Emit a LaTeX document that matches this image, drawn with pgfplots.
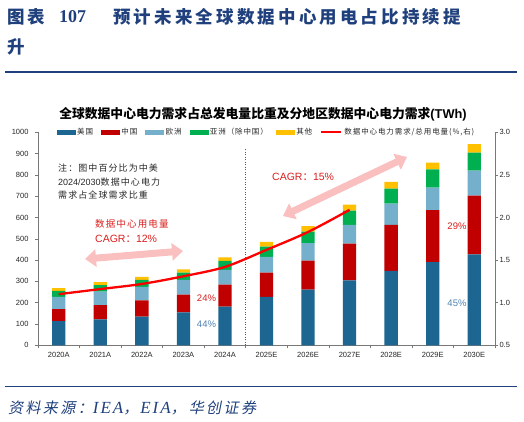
\documentclass[border=0pt]{standalone}
\usepackage{fontspec}
\usepackage{pgfplots}
\pgfplotsset{compat=1.18}
\usetikzlibrary{arrows.meta}
\setmainfont{Liberation Sans}
\newfontfamily\cjk{Noto Sans CJK SC}
\newfontfamily\cjks[LetterSpace=12]{Noto Sans CJK SC}
\newfontfamily\cjkhead[LetterSpace=18]{Noto Sans CJK SC}
\newfontfamily\cjksrc[LetterSpace=16,FakeSlant=0.2]{Noto Sans CJK SC}
\newfontfamily\serifl{Liberation Serif}
\newfontfamily\seriflsp[LetterSpace=12]{Liberation Serif}
\definecolor{usblue}{RGB}{29,102,145}
\definecolor{cnred}{RGB}{192,0,0}
\definecolor{eublue}{RGB}{116,176,203}
\definecolor{asgreen}{RGB}{0,176,80}
\definecolor{othyellow}{RGB}{255,192,0}
\definecolor{arrowpink}{RGB}{250,192,192}
\definecolor{navy}{RGB}{31,64,124}
\definecolor{annred}{RGB}{218,30,30}
\definecolor{pctblue}{RGB}{80,130,180}
\definecolor{axisgray}{RGB}{120,120,120}
\definecolor{labelgray}{RGB}{38,38,38}
\pgfplotstableread{
x us cn eu as oth
0 113 57 57 28 14
1 122 67 63 31 14
2 135 76 63 33 14
3 155 83 69 34 16
4 182 103 69 42 17
5 227 114 74 48 22
6 261 136 83 54 25
7 305 172 88 67 28
8 350 215 100 70 32
9 391 244 105 86 32
10 427 276 117 85 39
}\bars
\pgfplotstableread{
x share
0 1.10
1 1.16
2 1.22
3 1.31
4 1.42
5 1.62
6 1.83
7 2.09
}\share
\begin{document}
\begin{tikzpicture}
\useasboundingbox (0,0) rectangle (524bp,-422bp);
% header
\node[anchor=west,inner sep=0,text=navy] at (7bp,-17bp) {\cjkhead\bfseries\fontsize{17.5bp}{20bp}\selectfont 图表};
\node[anchor=west,inner sep=0,text=navy] at (59bp,-17bp) {\serifl\bfseries\fontsize{18bp}{20bp}\selectfont 107};
\node[anchor=west,inner sep=0,text=navy] at (113bp,-17bp) {\cjkhead\bfseries\fontsize{17.5bp}{20bp}\selectfont 预计未来全球数据中心用电占比持续提};
\node[anchor=west,inner sep=0,text=navy] at (7bp,-47bp) {\cjkhead\bfseries\fontsize{17.5bp}{20bp}\selectfont 升};
\draw[navy,line width=1.3bp] (5bp,-72bp) -- (517bp,-72bp);
\draw[navy,line width=1.3bp] (5bp,-386.7bp) -- (517bp,-386.7bp);
\node[anchor=west,inner sep=0,text=navy] at (8bp,-408bp) {\cjksrc\fontsize{15bp}{17bp}\selectfont 资料来源：{\seriflsp\itshape\fontsize{17bp}{17bp}\selectfont IEA}，\hspace{2bp}{\seriflsp\itshape\fontsize{17bp}{17bp}\selectfont EIA}，\hspace{3bp}华创证券};
% chart title
\node[inner sep=0,text=black] at (263bp,-114bp) {\cjk\bfseries\fontsize{12.8bp}{14bp}\selectfont 全球数据中心电力需求占总发电量比重及分地区数据中心电力需求{\rmfamily\bfseries(TWh)}};
\begin{axis}[
  at={(38bp,-345.3bp)}, anchor=south west,
  scale only axis, width=457bp, height=213bp,
  ybar stacked, bar width=13.3bp,
  xmin=-0.5, xmax=10.5, ymin=0, ymax=1000,
  axis x line*=bottom, axis y line*=left,
  axis line style={draw=axisgray,line width=0.6bp,-},
  xtick={-0.5,0.5,...,10.5},
  x tick label as interval,
  xticklabels={2020A,2021A,2022A,2023A,2024A,2025E,2026E,2027E,2028E,2029E,2030E},
  ytick={0,100,...,1000},
  tick align=outside,
  tick style={draw=axisgray,line width=0.6bp},
  major tick length=3bp,
  /pgf/number format/assume math mode=true,
  /pgf/number format/1000 sep={},
  ticklabel style={font=\fontsize{7.5bp}{9bp}\selectfont, text=labelgray},
  yticklabel style={xshift=-3bp},
]
\addplot[fill=usblue,draw=none] table[x=x,y=us]{\bars};
\addplot[fill=cnred,draw=none] table[x=x,y=cn]{\bars};
\addplot[fill=eublue,draw=none] table[x=x,y=eu]{\bars};
\addplot[fill=asgreen,draw=none] table[x=x,y=as]{\bars};
\addplot[fill=othyellow,draw=none] table[x=x,y=oth]{\bars};
\draw[annred,line width=1.2bp,dash pattern=on 1.2bp off 1.3bp] (axis cs:4.5,0) -- (axis cs:4.5,926);
\end{axis}
\begin{axis}[
  at={(38bp,-345.3bp)}, anchor=south west,
  scale only axis, width=457bp, height=213bp,
  xmin=-0.5, xmax=10.5, ymin=0.5, ymax=3,
  axis x line=none, axis y line*=right,
  axis line style={draw=axisgray,line width=0.6bp,-},
  ytick={0.5,1,...,3},
  tick align=outside,
  tick style={draw=axisgray,line width=0.6bp},
  major tick length=3bp,
  /pgf/number format/assume math mode=true,
  ticklabel style={font=\fontsize{7.5bp}{9bp}\selectfont, text=labelgray},
  yticklabel style={xshift=-2bp,/pgf/number format/fixed,/pgf/number format/fixed zerofill,/pgf/number format/precision=1},
  legend columns=6,
  legend style={at={(0.5,1)},anchor=center,draw=none,fill=none,
    font=\cjks\fontsize{7.5bp}{9bp}\selectfont, text=labelgray,
    inner sep=0pt,
    /tikz/every even column/.append style={column sep=6bp}},
  legend cell align=left,
]
\addlegendimage{legend image code/.code={\fill[usblue] (0bp,-2.2bp) rectangle (18bp,2.2bp);}}
\addlegendentry{美国}
\addlegendimage{legend image code/.code={\fill[cnred] (0bp,-2.2bp) rectangle (18bp,2.2bp);}}
\addlegendentry{中国}
\addlegendimage{legend image code/.code={\fill[eublue] (0bp,-2.2bp) rectangle (18bp,2.2bp);}}
\addlegendentry{欧洲}
\addlegendimage{legend image code/.code={\fill[asgreen] (0bp,-2.2bp) rectangle (18bp,2.2bp);}}
\addlegendentry{亚洲（除中国）}
\addlegendimage{legend image code/.code={\fill[othyellow] (0bp,-2.2bp) rectangle (18bp,2.2bp);}}
\addlegendentry{其他}
\addplot[red,line width=2.3bp,smooth,mark=none,
  legend image code/.code={\draw[red,line width=2.3bp] (0bp,0bp) -- (20bp,0bp);}]
  table[x=x,y=share]{\share};
\addlegendentry{数据中心电力需求/总用电量(\%,右)}
\end{axis}
% annotations
\node[anchor=west,inner sep=0,text=labelgray] at (58bp,-168bp) {\cjks\fontsize{9bp}{11bp}\selectfont 注：图中百分比为中美};
\node[anchor=west,inner sep=0,text=labelgray] at (58bp,-182bp) {\fontsize{9bp}{11bp}\selectfont 2024/2030{\cjks 数据中心电力}};
\node[anchor=west,inner sep=0,text=labelgray] at (58bp,-195bp) {\cjks\fontsize{9bp}{11bp}\selectfont 需求占全球需求比重};
\node[anchor=west,inner sep=0,text=annred] at (95bp,-224bp) {\cjks\fontsize{9.5bp}{11bp}\selectfont 数据中心用电量};
\node[anchor=west,inner sep=0,text=annred] at (95bp,-239bp) {\fontsize{10.5bp}{12bp}\selectfont CAGR{\cjk ：}12\%};
\node[anchor=west,inner sep=0,text=annred] at (272bp,-177bp) {\fontsize{10.5bp}{12bp}\selectfont CAGR{\cjk ：}15\%};
\draw[arrowpink,line width=7bp,{Triangle[width=17bp,length=11bp]}-{Triangle[width=17bp,length=11bp]}] (85bp,-259bp) -- (183bp,-251bp);
\draw[arrowpink,line width=7bp,{Triangle[width=17bp,length=11bp]}-{Triangle[width=17bp,length=11bp]}] (283bp,-216bp) -- (407bp,-157bp);
\node[inner sep=0,text=annred] at (206.5bp,-298bp) {\fontsize{9.5bp}{11bp}\selectfont 24\%};
\node[inner sep=0,text=pctblue] at (206.5bp,-324.5bp) {\fontsize{9.5bp}{11bp}\selectfont 44\%};
\node[inner sep=0,text=annred] at (457bp,-226bp) {\fontsize{9.5bp}{11bp}\selectfont 29\%};
\node[inner sep=0,text=pctblue] at (457bp,-303bp) {\fontsize{9.5bp}{11bp}\selectfont 45\%};
\end{tikzpicture}
\end{document}
